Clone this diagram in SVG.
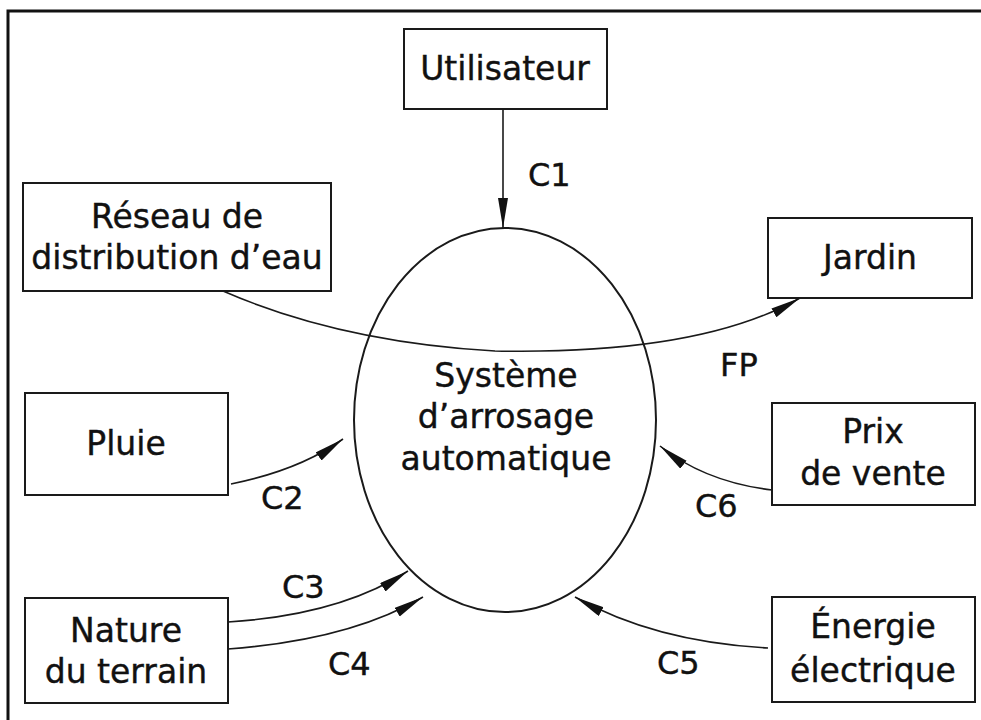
<svg xmlns="http://www.w3.org/2000/svg" width="981" height="720" viewBox="0 0 981 720">
<defs>
<style>
.box{fill:#fff;stroke:#1a1a1a;stroke-width:2}
.t{font-family:"DejaVu Sans","Liberation Sans",sans-serif;font-size:33px;fill:#111;stroke:#111;stroke-width:0.4;text-anchor:middle}
.l{font-family:"DejaVu Sans","Liberation Sans",sans-serif;font-size:32px;fill:#111;stroke:#111;stroke-width:0.4}
.c{fill:none;stroke:#1a1a1a;stroke-width:1.6;marker-end:url(#ah)}
</style>
<marker id="ah" markerUnits="userSpaceOnUse" markerWidth="32" markerHeight="12" refX="30" refY="5" orient="auto">
<path d="M0,0 L30,5 L0,10 Z" fill="#111"/>
</marker>
</defs>
<rect width="981" height="720" fill="#fff"/>
<path d="M8,740 V11 H1000" fill="none" stroke="#111" stroke-width="3"/>

<g id="systeme">
<ellipse cx="505" cy="420" rx="151" ry="192" fill="none" stroke="#1a1a1a" stroke-width="2"/>
<text class="t" x="506" y="387">Système</text>
<text class="t" x="506" y="428">d’arrosage</text>
<text class="t" x="506" y="470">automatique</text>
</g>

<g id="utilisateur">
<rect class="box" x="404" y="29" width="203" height="80"/>
<text class="t" x="505" y="80">Utilisateur</text>
</g>

<g id="reseau">
<rect class="box" x="23" y="183" width="308" height="108"/>
<text class="t" x="177" y="228">Réseau de</text>
<text class="t" x="177" y="269">distribution d’eau</text>
</g>

<g id="jardin">
<rect class="box" x="768" y="218" width="204" height="80"/>
<text class="t" x="870" y="269">Jardin</text>
</g>

<g id="pluie">
<rect class="box" x="25" y="393" width="203" height="102"/>
<text class="t" x="126" y="455">Pluie</text>
</g>

<g id="nature">
<rect class="box" x="25" y="598" width="203" height="105"/>
<text class="t" x="126" y="642">Nature</text>
<text class="t" x="126" y="683">du terrain</text>
</g>

<g id="prix">
<rect class="box" x="772" y="403" width="203" height="102"/>
<text class="t" x="873" y="443">Prix</text>
<text class="t" x="873" y="485">de vente</text>
</g>

<g id="energie">
<rect class="box" x="772" y="597" width="203" height="105"/>
<text class="t" x="873" y="638">Énergie</text>
<text class="t" x="873" y="682">électrique</text>
</g>

<g id="connectors">
<path class="c" d="M503,109 V228"/>
<path class="c" d="M223,291 Q340,342 495,351 Q700,355 800,298"/>
<path class="c" d="M231,484 Q300,470 343,439"/>
<path class="c" d="M228,622 Q340,615 408,571"/>
<path class="c" d="M228,649 Q350,640 423,597"/>
<path class="c" d="M772,490 Q705,482 660,446"/>
<path class="c" d="M768,648 Q655,642 575,597"/>
<text class="l" x="528" y="186">C1</text>
<text class="l" x="720" y="376">FP</text>
<text class="l" x="261" y="509">C2</text>
<text class="l" x="282" y="598">C3</text>
<text class="l" x="328" y="675">C4</text>
<text class="l" x="695" y="517">C6</text>
<text class="l" x="657" y="674">C5</text>
</g>
</svg>
